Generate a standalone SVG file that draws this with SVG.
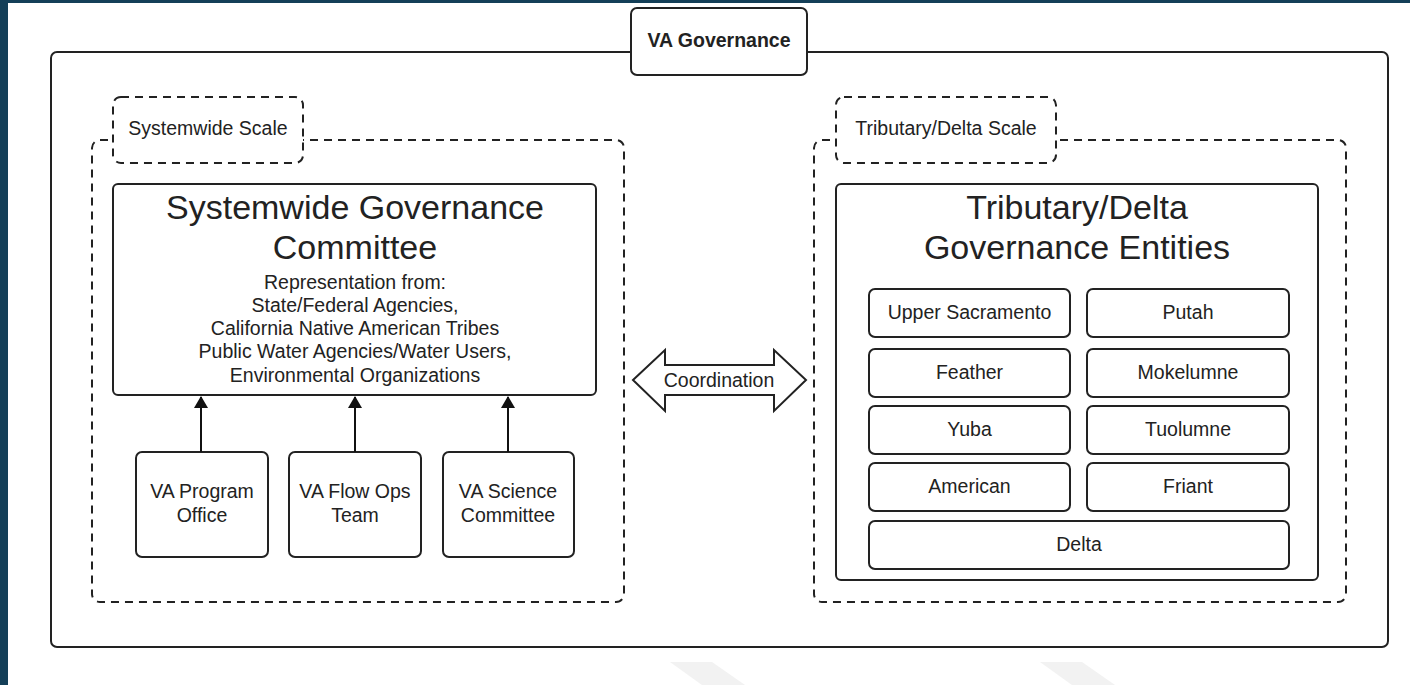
<svg xmlns="http://www.w3.org/2000/svg" width="1410" height="685" viewBox="0 0 1410 685">
<style>
.box{fill:#fff;stroke:#222;stroke-width:2}
.dash{fill:#fff;stroke:#222;stroke-width:2;stroke-dasharray:8 6}
text{font-family:"Liberation Sans",Arial,sans-serif;fill:#222;text-anchor:middle;dominant-baseline:central}
.t{font-size:19.5px}
.big{font-size:34px}
.conn{stroke:#111;stroke-width:2;fill:none}
</style>
<defs>
<marker id="ah" markerWidth="12" markerHeight="14" refX="11" refY="7" orient="auto" markerUnits="userSpaceOnUse">
<path d="M0,0 L12,7 L0,14 Z" fill="#111"/>
</marker>
</defs>
<rect x="0" y="0" width="1410" height="685" fill="#fff"/>
<rect x="0" y="0" width="1410" height="3" fill="#143f58"/>
<rect x="0" y="0" width="8" height="685" fill="#143f58"/>
<polygon points="670,662 712,662 745,685 702,685" fill="#f2f2f2"/>
<polygon points="1040,662 1082,662 1115,685 1072,685" fill="#f2f2f2"/>

<g id="outer">
<rect class="box" x="51" y="52" width="1337" height="595" rx="6"/>
</g>
<g id="va-governance">
<rect class="box" x="631" y="8" width="176" height="67" rx="6"/>
<text x="719" y="40" style="font-size:19.5px;font-weight:bold">VA Governance</text>
</g>

<g id="systemwide-scale">
<rect class="dash" x="92" y="140" width="532" height="462" rx="8"/>
<rect class="dash" x="113" y="97" width="190" height="66" rx="8"/>
<text class="t" x="208" y="128">Systemwide Scale</text>
</g>

<g id="systemwide-committee">
<rect class="box" x="113" y="184" width="483" height="211" rx="5"/>
<text class="big" x="355" y="207">Systemwide Governance</text>
<text class="big" x="355" y="247">Committee</text>
<text class="t" x="355" y="282">Representation from:</text>
<text class="t" x="355" y="305">State/Federal Agencies,</text>
<text class="t" x="355" y="328">California Native American Tribes</text>
<text class="t" x="355" y="351">Public Water Agencies/Water Users,</text>
<text class="t" x="355" y="375">Environmental Organizations</text>
</g>

<g id="va-program-office">
<rect class="box" x="136" y="452" width="132" height="105" rx="6"/>
<text class="t" x="202" y="491">VA Program</text>
<text class="t" x="202" y="515">Office</text>
</g>
<g id="va-flow-ops">
<rect class="box" x="289" y="452" width="132" height="105" rx="6"/>
<text class="t" x="355" y="491">VA Flow Ops</text>
<text class="t" x="355" y="515">Team</text>
</g>
<g id="va-science">
<rect class="box" x="443" y="452" width="131" height="105" rx="6"/>
<text class="t" x="508" y="491">VA Science</text>
<text class="t" x="508" y="515">Committee</text>
</g>

<g id="tributary-scale">
<rect class="dash" x="814" y="140" width="532" height="462" rx="8"/>
<rect class="dash" x="836" y="97" width="220" height="66" rx="8"/>
<text class="t" x="946" y="128">Tributary/Delta Scale</text>
</g>

<g id="tributary-entities">
<rect class="box" x="836" y="184" width="482" height="396" rx="5"/>
<text class="big" x="1077" y="207">Tributary/Delta</text>
<text class="big" x="1077" y="247">Governance Entities</text>
</g>
<g id="upper-sacramento"><rect class="box" x="869" y="289" width="201" height="48" rx="6"/><text class="t" x="969.5" y="312">Upper Sacramento</text></g>
<g id="putah"><rect class="box" x="1087" y="289" width="202" height="48" rx="6"/><text class="t" x="1188" y="312">Putah</text></g>
<g id="feather"><rect class="box" x="869" y="349" width="201" height="48" rx="6"/><text class="t" x="969.5" y="372">Feather</text></g>
<g id="mokelumne"><rect class="box" x="1087" y="349" width="202" height="48" rx="6"/><text class="t" x="1188" y="372">Mokelumne</text></g>
<g id="yuba"><rect class="box" x="869" y="406" width="201" height="48" rx="6"/><text class="t" x="969.5" y="429">Yuba</text></g>
<g id="tuolumne"><rect class="box" x="1087" y="406" width="202" height="48" rx="6"/><text class="t" x="1188" y="429">Tuolumne</text></g>
<g id="american"><rect class="box" x="869" y="463" width="201" height="48" rx="6"/><text class="t" x="969.5" y="486">American</text></g>
<g id="friant"><rect class="box" x="1087" y="463" width="202" height="48" rx="6"/><text class="t" x="1188" y="486">Friant</text></g>
<g id="delta"><rect class="box" x="869" y="521" width="420" height="48" rx="6"/><text class="t" x="1079" y="544">Delta</text></g>

<g id="connectors">
<line class="conn" x1="201" y1="452" x2="201" y2="397" marker-end="url(#ah)"/>
<line class="conn" x1="355" y1="452" x2="355" y2="397" marker-end="url(#ah)"/>
<line class="conn" x1="508" y1="452" x2="508" y2="397" marker-end="url(#ah)"/>
<g id="coordination">
<path d="M633,380 L665,350 L665,365 L774,365 L774,350 L806,380 L774,411 L774,395 L665,395 L665,411 Z" fill="#fff" stroke="#222" stroke-width="2" stroke-linejoin="miter"/>
<text class="t" x="719" y="380">Coordination</text>
</g>
</g>
</svg>
